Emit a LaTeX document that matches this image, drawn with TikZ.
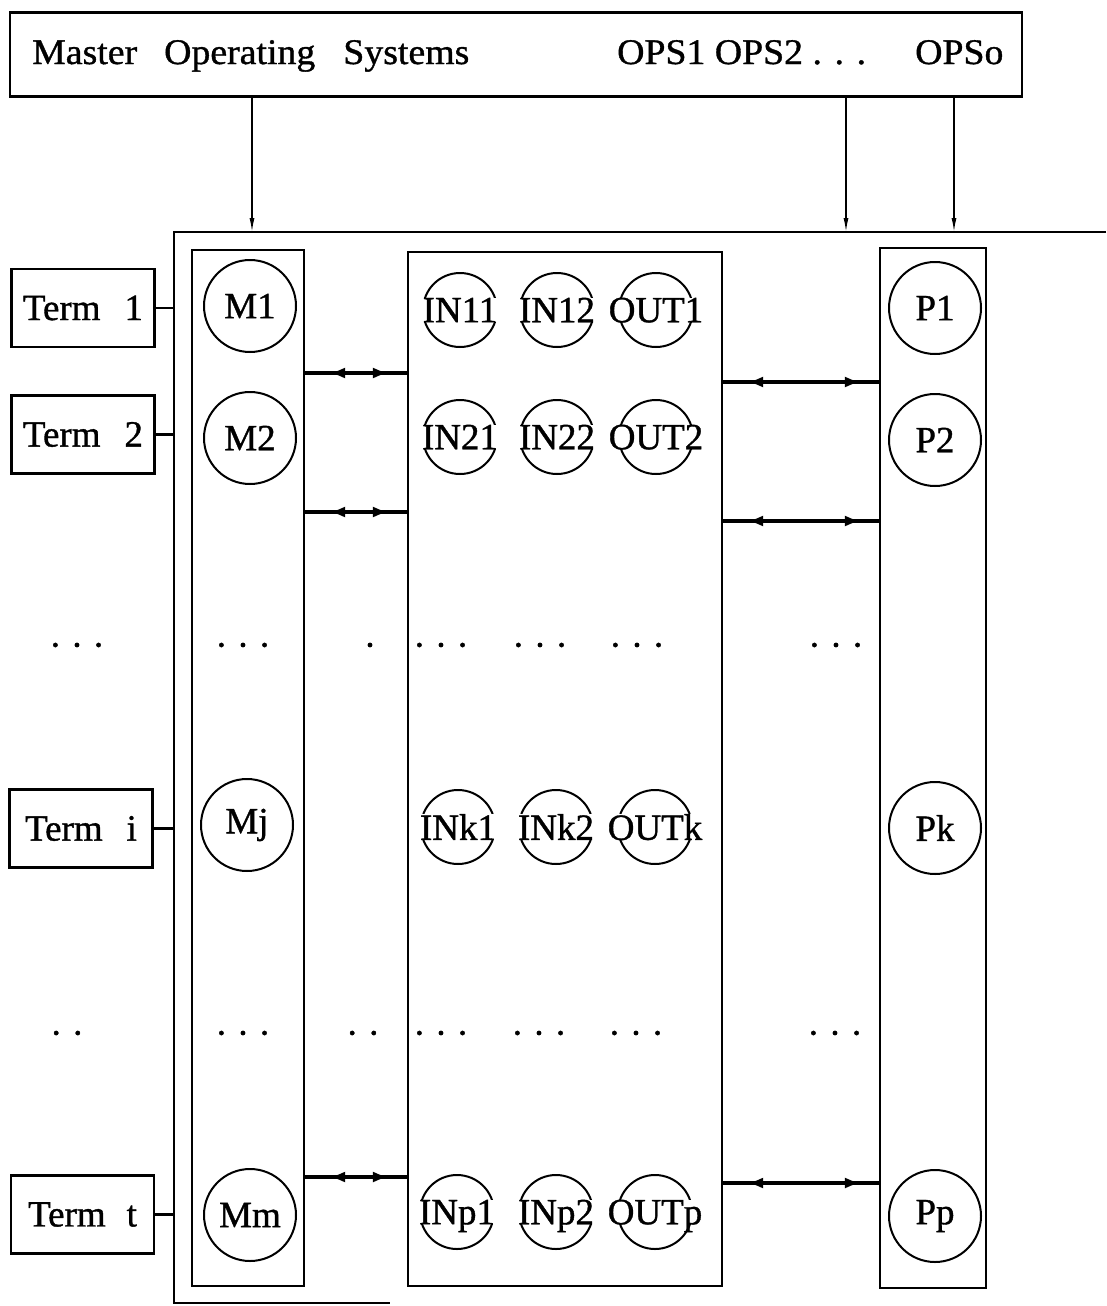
\documentclass[tikz,border=0pt]{standalone}
\usepackage{fontspec}
\setmainfont{Liberation Serif}[FakeBold=1]
\newfontfamily\widefont{Liberation Serif}[FakeStretch=1.05,FakeBold=1]
\usetikzlibrary{arrows.meta,decorations.markings}
\begin{document}
\begin{tikzpicture}[x=1pt,y=-1pt,
  every node/.style={font=\fontsize{37}{40}\selectfont},
  boxline/.style={line width=2.2pt},
  topbox/.style={draw, line width=2.2pt, inner sep=0pt},
  toptext/.style={anchor=base west, inner sep=0pt, font=\widefont\fontsize{36}{40}\selectfont},
  termbox/.style={draw, line width=2.2pt, minimum width=143pt, minimum height=78pt, inner sep=0pt},
  colbox/.style={draw, line width=2.2pt, inner sep=0pt},
  mcirc/.style={draw, circle, line width=2pt, minimum size=92pt, inner sep=0pt},
  incirc/.style={draw, circle, line width=2pt, minimum size=74pt, inner sep=0pt},
  intext/.style={fill=white, inner xsep=1.5pt, inner ysep=0pt, text depth=0pt},
  dots/.style={inner sep=0pt},
  toparrow/.style={line width=1.4pt, -{Latex[length=14pt,width=5pt]}},
  biarrow/.style={line width=3.2pt, postaction={decorate},
    decoration={markings,
      mark=at position 24pt with {\arrowreversed{Latex[length=16pt,width=11pt]}},
      mark=at position -18pt with {\arrow{Latex[length=16pt,width=11pt]}}}}
]
\useasboundingbox (0,0) rectangle (1106,1306);

% top box
\node[topbox, minimum width=1012pt, minimum height=84pt] (ms) at (516,54.5) {};
\node[toptext] (mostxt) at (32,64) {Master\hspace{27pt}Operating\hspace{28pt}Systems};
\node[toptext] (opstxt) at (617,64) {OPS1 OPS2 . . .};
\node[toptext] (opso) at (915,64) {OPSo};

% outer box (open to the right)
\coordinate (otl) at (174,232);
\coordinate (otr) at (1106,232);
\coordinate (obl) at (174,1303);
\coordinate (obr) at (390,1303);
\draw[boxline] (otr) -- (otl) -- (obl) -- (obr);

% arrows from top box
\coordinate (a1) at (252,232);
\coordinate (a2) at (846,232);
\coordinate (a3) at (954,232);
\draw[toparrow] (ms.south -| a1) -- (a1);
\draw[toparrow] (ms.south -| a2) -- (a2);
\draw[toparrow] (ms.south -| a3) -- (a3);

% column boxes
\node[colbox, minimum width=112pt, minimum height=1036pt] (mcol) at (248,768) {};
\node[colbox, minimum width=314pt, minimum height=1034pt] (inbox) at (565,769) {};
\node[colbox, minimum width=106pt, minimum height=1040pt] (pcol) at (933,768) {};

% terminals
\node[termbox] (t1) at (83,308) {Term\hspace{24pt}1};
\node[termbox] (t2) at (83,434.5) {Term\hspace{24pt}2};
\node[termbox] (ti) at (81,828.5) {Term\hspace{24pt}i};
\node[termbox] (tt) at (82.5,1214.5) {Term\hspace{21pt}t};
\draw[boxline] (t1.east) -- (t1.east -| otl);
\draw[boxline] (t2.east) -- (t2.east -| otl);
\draw[boxline] (ti.east) -- (ti.east -| otl);
\draw[boxline] (tt.east) -- (tt.east -| otl);

% master processes
\node[mcirc] (m1) at (250,306) {M1};
\node[mcirc] (m2) at (250,438) {M2};
\node[mcirc] (mj) at (247,825) {Mj};
\node[mcirc] (mm) at (250,1215) {Mm};

% slave processes
\node[mcirc] (p1) at (935,308) {P1};
\node[mcirc] (p2) at (935,440) {P2};
\node[mcirc] (pk) at (935,828) {Pk};
\node[mcirc] (pp) at (935,1216) {Pp};

% IN / OUT queues
\node[incirc] (in11) at (460,310) {};
\node[incirc] (in12) at (557,310) {};
\node[incirc] (out1) at (656,310) {};
\node[intext] (in11t) at (in11.center) {IN11};
\node[intext] (in12t) at (in12.center) {IN12};
\node[intext] (out1t) at (out1.center) {OUT1};

\node[incirc] (in21) at (460,437) {};
\node[incirc] (in22) at (557,437) {};
\node[incirc] (out2) at (656,437) {};
\node[intext] (in21t) at (in21.center) {IN21};
\node[intext] (in22t) at (in22.center) {IN22};
\node[intext] (out2t) at (out2.center) {OUT2};

\node[incirc] (ink1) at (458,827) {};
\node[incirc] (ink2) at (556,827) {};
\node[incirc] (outk) at (655,827) {};
\node[intext] (ink1t) at (ink1.center) {INk1};
\node[intext] (ink2t) at (ink2.center) {INk2};
\node[intext] (outkt) at (outk.center) {OUTk};

\node[incirc] (inp1) at (457,1212) {};
\node[incirc] (inp2) at (556,1212) {};
\node[incirc] (outp) at (655,1212) {};
\node[intext] (inp1t) at (inp1.center) {INp1};
\node[intext] (inp2t) at (inp2.center) {INp2};
\node[intext] (outpt) at (outp.center) {OUTp};

% connections
\coordinate (r1) at (0,373);
\coordinate (r2) at (0,512);
\coordinate (r3) at (0,1177);
\coordinate (s1) at (0,382);
\coordinate (s2) at (0,521);
\coordinate (s3) at (0,1183);
\draw[biarrow] (mcol.east |- r1) -- (inbox.west |- r1);
\draw[biarrow] (mcol.east |- r2) -- (inbox.west |- r2);
\draw[biarrow] (mcol.east |- r3) -- (inbox.west |- r3);
\draw[biarrow] (inbox.east |- s1) -- (pcol.west |- s1);
\draw[biarrow] (inbox.east |- s2) -- (pcol.west |- s2);
\draw[biarrow] (inbox.east |- s3) -- (pcol.west |- s3);

% ellipsis rows
\node[dots] (d1a) at (77,645) {. . .};
\node[dots] (d1b) at (243,645) {. . .};
\node[dots] (d1c) at (370,645) {.};
\node[dots] (d1d) at (441,645) {. . .};
\node[dots] (d1e) at (540,645) {. . .};
\node[dots] (d1f) at (637,645) {. . .};
\node[dots] (d1g) at (836,645) {. . .};

\node[dots] (d2a) at (67,1033) {. .};
\node[dots] (d2b) at (243,1033) {. . .};
\node[dots] (d2c) at (363,1033) {. .};
\node[dots] (d2d) at (441,1033) {. . .};
\node[dots] (d2e) at (539,1033) {. . .};
\node[dots] (d2f) at (636,1033) {. . .};
\node[dots] (d2g) at (835,1033) {. . .};
\end{tikzpicture}
\end{document}
